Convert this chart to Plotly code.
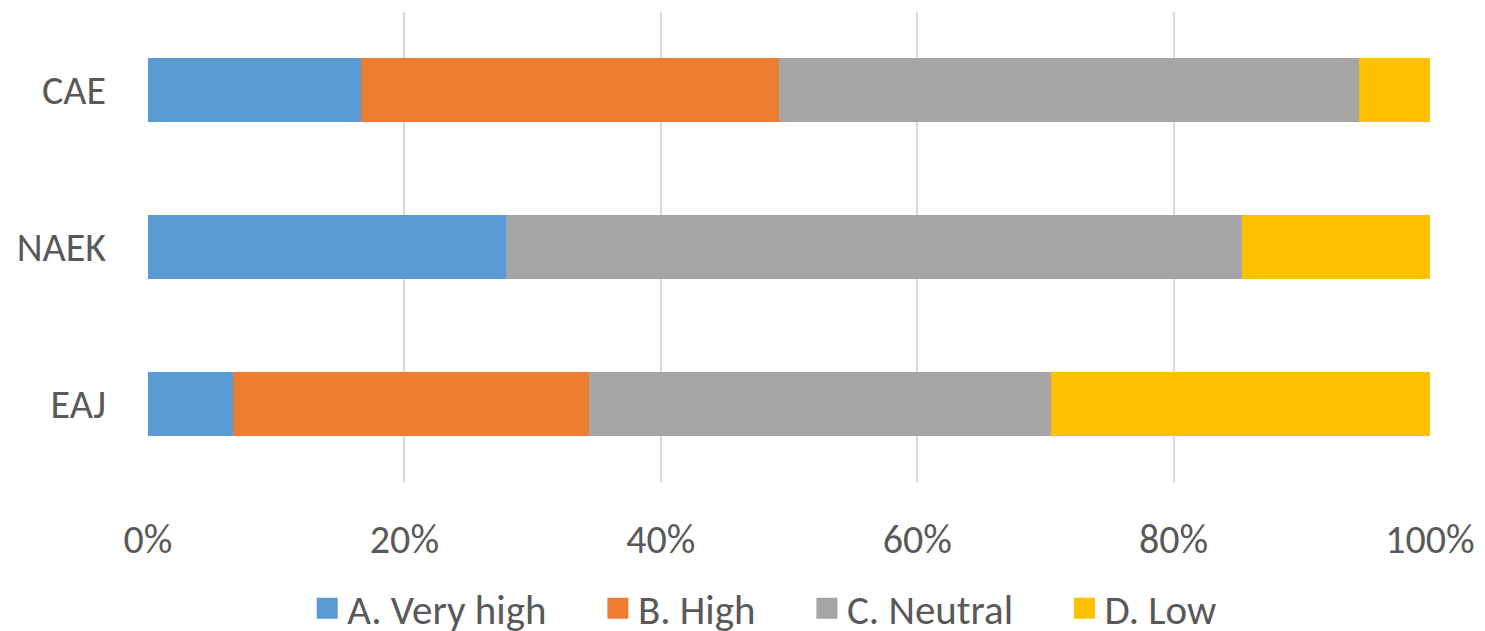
import plotly.graph_objects as go

# categories (top to bottom in the picture)
groups = ["CAE", "NAEK", "EAJ"]

# share of answers per group, in %
very_high = [16.6, 27.9, 6.6]
high = [32.6, 0.0, 27.8]
neutral = [45.3, 57.4, 36.0]
low = [5.5, 14.7, 29.6]

series = [
    ("A. Very high", very_high, "#5B9BD5"),
    ("B. High", high, "#ED7D31"),
    ("C. Neutral", neutral, "#A5A5A5"),
    ("D. Low", low, "#FFC000"),
]

font_family = "Calibri, Carlito, Lato, 'Open Sans', sans-serif"
pad = "\u00a0" * 5  # extra room between legend entries

fig = go.Figure()
for name, vals, col in series:
    fig.add_trace(go.Bar(
        y=groups, x=vals, name=name, orientation="h", showlegend=False,
        legendgroup=name,
        marker=dict(color=col, line=dict(width=0)),
    ))

# legend-only traces so the legend squares can be bigger than plotly's bar icons
for name, vals, col in series:
    fig.add_trace(go.Scatter(
        x=[None], y=[None], mode="markers", name=name + pad, legendgroup=name,
        marker=dict(symbol="square", size=16, color=col, line=dict(color=col, width=5)),
        hoverinfo="skip",
    ))

# page body has an 8px margin, so the figure is a bit smaller than the window
fig.update_layout(
    barmode="stack",
    bargap=0.59,
    width=1477, height=623,
    margin=dict(l=140, r=55, t=4, b=149, autoexpand=False),
    plot_bgcolor="white", paper_bgcolor="white",
    font=dict(family=font_family, size=40, color="#595959"),
    showlegend=True,
    legend=dict(orientation="h", x=0.499, xanchor="center", y=-0.198, yanchor="top",
                font=dict(size=41, color="#595959"), traceorder="normal",
                itemwidth=30, itemsizing="trace"),
)
fig.update_xaxes(
    range=[0, 100], dtick=20, ticksuffix="%",
    showgrid=True, gridcolor="#D9D9D9", gridwidth=1.5,
    zeroline=False, showline=False, ticks="",
    ticklabelstandoff=30,
)
fig.update_yaxes(
    autorange="reversed", showgrid=False, showline=False, ticks="",
    ticklabelstandoff=41,
)

fig.write_html("out.html")
